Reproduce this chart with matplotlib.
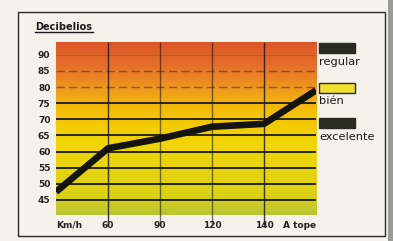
import numpy as np
import matplotlib.pyplot as plt
from matplotlib.colors import LinearSegmentedColormap
from matplotlib.patches import Rectangle

# datos
velocidades = ["Km/h", "60", "90", "120", "140", "A tope"]
decibelios = [47.5, 61, 64, 67.7, 68.6, 79]
y_ticks = [45, 50, 55, 60, 65, 70, 75, 80, 85, 90]
leyenda = ["regular", "bién", "excelente"]
leyenda_col = ["#2a2c22", "#f2e030", "#2a2c22"]

W, H = 393, 241
fig = plt.figure(figsize=(W / 100, H / 100), dpi=100)
fig.patch.set_facecolor("#f4f2ea")

# marco exterior
fig.patches.append(Rectangle((18 / W, 1 - 236 / H), 367 / W, 224 / H,
                             transform=fig.transFigure, fill=False,
                             edgecolor="#2a2a2a", lw=1.0))
fig.patches.append(Rectangle((388 / W, 0), 5 / W, 1, transform=fig.transFigure,
                             color="#9a9a98", lw=0))

ax = fig.add_axes([56 / W, 1 - 215 / H, 260 / W, 173 / H])
ymin, ymax = 40.3, 94
ax.set_xlim(0, 5)
ax.set_ylim(ymin, ymax)

# fondo degradado
cmap = LinearSegmentedColormap.from_list("fondo", [
    (0.0, "#b8c634"), (0.12, "#dcd214"), (0.42, "#f2d600"),
    (0.6, "#f4c000"), (0.72, "#f09c1c"), (0.86, "#e6702a"), (1.0, "#dc5628")])
grad = np.linspace(0, 1, 256).reshape(-1, 1)
ax.imshow(grad, extent=[0, 5, ymin, ymax], origin="lower", aspect="auto",
          cmap=cmap, zorder=0)

for v in y_ticks:
    if v <= 75:
        ax.axhline(v, color="#1a1a14", lw=1.3, zorder=1)
    elif v < 90:
        ax.axhline(v, color="#6a3a1a", lw=1.0, ls=(0, (6, 3)), alpha=0.7, zorder=1)
    else:
        ax.axhline(v, color="#a04a20", lw=0.8, alpha=0.4, zorder=1)

for i in range(1, 5):
    ax.vlines(i, ymin - 3, ymax, color="#1a1a14", lw=1.0,
              alpha=0.85 if i in (1, 4) else 0.6, clip_on=False, zorder=1)

ax.plot(range(len(velocidades)), decibelios, color="#141410", lw=4.8,
        solid_capstyle="butt", zorder=3)

ax.set_yticks(y_ticks)
ax.set_yticklabels([str(v) for v in y_ticks], fontsize=6.5,
                   fontweight="bold", color="#222")
ax.set_xticks(range(len(velocidades)))
ax.set_xticklabels(velocidades, fontsize=6.5, fontweight="bold", color="#222")
lbls = ax.get_xticklabels()
lbls[0].set_ha("left")
lbls[-1].set_ha("right")
ax.tick_params(length=0, pad=4)
for s in ax.spines.values():
    s.set_visible(False)

# titulo
fig.text(35 / W, 1 - 27 / H, "Decibelios", fontsize=7, fontweight="bold",
         color="#1a1a1a", va="center", ha="left")
fig.add_artist(plt.Line2D([35 / W, 93 / W], [1 - 32 / H, 1 - 32 / H],
                          color="#1a1a1a", lw=1.0))

# leyenda
cajas_y = [43, 83, 118]
textos_y = [62, 101, 137]
for nombre, col, by, ty in zip(leyenda, leyenda_col, cajas_y, textos_y):
    fig.patches.append(Rectangle((319 / W, 1 - (by + 10) / H), 36 / W, 10 / H,
                                 transform=fig.transFigure, facecolor=col,
                                 edgecolor="#2a2a20", lw=1.0))
    fig.text(319 / W, 1 - ty / H, nombre, fontsize=8.2, color="#1a1a1a",
             va="center", ha="left")

fig.savefig("out.png", dpi=100, facecolor=fig.get_facecolor())
